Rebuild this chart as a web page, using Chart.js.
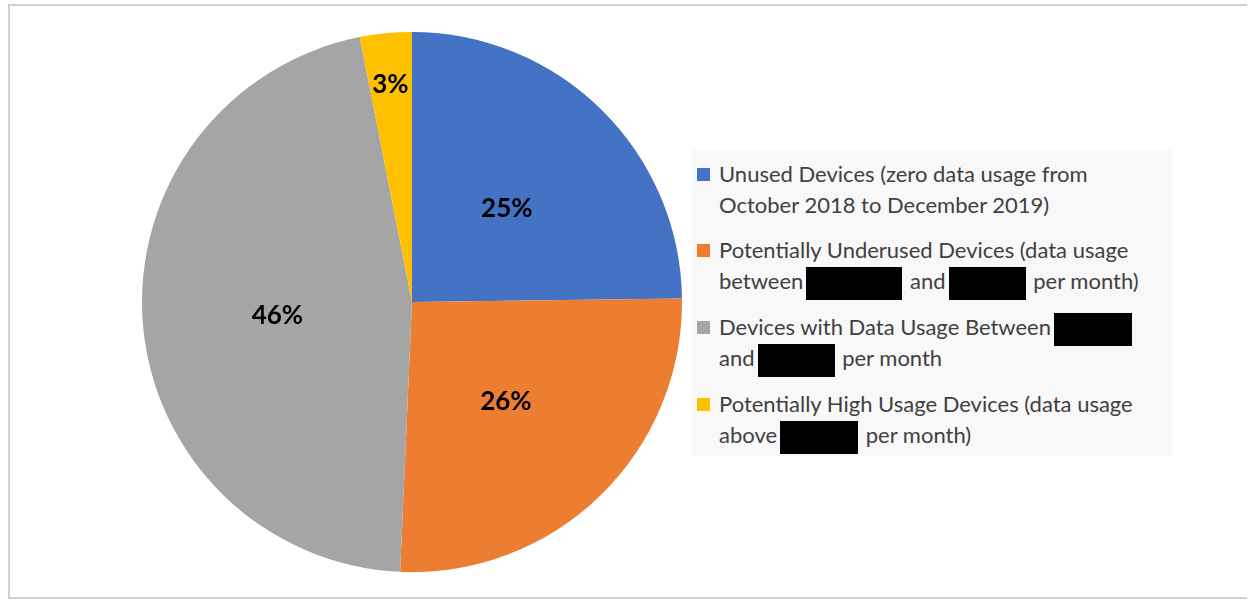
<!DOCTYPE html>
<html>
<head>
<meta charset="utf-8">
<script src="https://cdn.jsdelivr.net/npm/chart.js@4.4.1/dist/chart.umd.min.js"></script>
<style>
  html, body { margin: 0; padding: 0; background: #fff; }
  body { width: 1254px; height: 601px; position: relative; overflow: hidden; font-family: Lato, "Open Sans", sans-serif; }
  #frame { position: absolute; left: 8px; top: 4px; width: 1239px; height: 595px; border: 2px solid #d2cece; border-right: none; box-sizing: border-box; }
  #pieBox { position: absolute; left: 142px; top: 32px; width: 540px; height: 540px; }
  #legend { position: absolute; left: 692px; top: 150px; width: 480px; height: 306px; background: #f8f8f8; color: #404040; font-size: 22px; }
  .item { position: absolute; left: 0; }
  .line { height: 31px; line-height: 31px; white-space: pre; padding-left: 27px; position: relative; }
  .mark { position: absolute; left: 5px; top: 10px; width: 13px; height: 13px; }
  .redact { display: inline-block; background: #000; height: 33px; vertical-align: middle; margin: 0 2px 0 3px; }
</style>
</head>
<body>
<div id="frame"></div>
<div id="pieBox"><canvas id="pie"></canvas></div>
<div id="legend"></div>
<script>
var categories = [
  'Unused Devices (zero data usage from October 2018 to December 2019)',
  'Potentially Underused Devices (data usage between [redacted] and [redacted] per month)',
  'Devices with Data Usage Between [redacted] and [redacted] per month',
  'Potentially High Usage Devices (data usage above [redacted] per month)'
];
var shares = [24.8, 25.9, 46.2, 3.1];
var shareLabels = ['25%', '26%', '46%', '3%'];
var sliceColors = ['#4472C4', '#ED7D31', '#A5A5A5', '#FFC000'];

// legend text as displayed, line by line; numbers are widths of blacked-out boxes
var legendLines = [
  [['Unused Devices (zero data usage from'], ['October 2018 to December 2019)']],
  [['Potentially Underused Devices (data usage'], ['between', 96, ' and', 77, ' per month)']],
  [['Devices with Data Usage Between', 78], ['and', 77, ' per month']],
  [['Potentially High Usage Devices (data usage'], ['above', 78, ' per month)']]
];
var legendTops = [8, 84, 161, 238];

var legend = document.getElementById('legend');
legendLines.forEach(function (lines, i) {
  var item = document.createElement('div');
  item.className = 'item';
  item.style.top = legendTops[i] + 'px';
  lines.forEach(function (parts, j) {
    var line = document.createElement('div');
    line.className = 'line';
    if (j === 0) {
      var m = document.createElement('span');
      m.className = 'mark';
      m.style.background = sliceColors[i];
      line.appendChild(m);
    }
    parts.forEach(function (p) {
      if (typeof p === 'number') {
        var r = document.createElement('span');
        r.className = 'redact';
        r.style.width = p + 'px';
        line.appendChild(r);
      } else {
        line.appendChild(document.createTextNode(p));
      }
    });
    item.appendChild(line);
  });
  legend.appendChild(item);
});

var labelRadius = [0.5, 0.5, 0.5, 0.82];
var sliceLabels = {
  id: 'sliceLabels',
  afterDatasetsDraw: function (chart) {
    var ctx = chart.ctx;
    var meta = chart.getDatasetMeta(0);
    ctx.save();
    ctx.font = 'bold 26px Lato, "Open Sans", sans-serif';
    ctx.fillStyle = '#000';
    ctx.textAlign = 'center';
    ctx.textBaseline = 'middle';
    meta.data.forEach(function (arc, i) {
      var mid = (arc.startAngle + arc.endAngle) / 2;
      var r = arc.outerRadius * labelRadius[i];
      ctx.fillText(shareLabels[i], arc.x + Math.cos(mid) * r, arc.y + Math.sin(mid) * r + 3);
    });
    ctx.restore();
  }
};

new Chart(document.getElementById('pie').getContext('2d'), {
  type: 'pie',
  data: {
    labels: categories,
    datasets: [{
      data: shares,
      backgroundColor: sliceColors,
      borderWidth: 0
    }]
  },
  options: {
    responsive: true,
    maintainAspectRatio: false,
    animation: false,
    layout: { padding: 0 },
    plugins: {
      legend: { display: false },
      tooltip: { enabled: false }
    }
  },
  plugins: [sliceLabels]
});
</script>
</body>
</html>
